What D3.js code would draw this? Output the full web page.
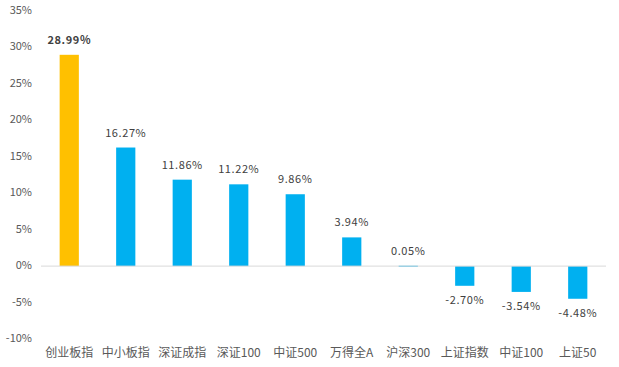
<!DOCTYPE html>
<html>
<head>
<meta charset="utf-8">
<script src="https://cdn.jsdelivr.net/npm/d3@7"></script>
<style>
  body { margin: 0; background: #fff; }
</style>
</head>
<body>
<div class="chart-container"></div>
<script>
// categories and values (%)
const categories = ['创业板指', '中小板指', '深证成指', '深证100', '中证500', '万得全A', '沪深300', '上证指数', '中证100', '上证50'];
const values = [28.99, 16.27, 11.86, 11.22, 9.86, 3.94, 0.05, -2.70, -3.54, -4.48];
const yTicks = [-10, -5, 0, 5, 10, 15, 20, 25, 30, 35];

const width = 619;
const height = 367;
const margin = { top: 10, right: 13, bottom: 28, left: 41 };

const fontCN = '"Noto Sans CJK SC", "DejaVu Sans", sans-serif';

const svg = d3.select('.chart-container')
  .append('svg')
  .attr('width', width)
  .attr('height', height)
  .attr('font-family', fontCN);

const x = d3.scaleBand()
  .domain(categories)
  .range([margin.left, width - margin.right])
  .paddingInner(0.66)
  .paddingOuter(0.33);

const y = d3.scaleLinear()
  .domain([-10, 35])
  .range([339, 11]);

// y tick labels
svg.append('g')
  .selectAll('text')
  .data(yTicks)
  .join('text')
    .attr('x', 32)
    .attr('y', d => y(d))
    .attr('text-anchor', 'end')
    .attr('dominant-baseline', 'middle')
    .attr('font-size', '11px')
    .attr('fill', '#595959')
    .text(d => d + '%');

// bars
svg.append('g')
  .selectAll('rect')
  .data(values)
  .join('rect')
    .attr('x', (d, i) => x(categories[i]))
    .attr('width', x.bandwidth())
    .attr('y', d => y(Math.max(0, d)))
    .attr('height', d => Math.max(1, Math.abs(y(d) - y(0))))
    .attr('fill', (d, i) => i === 0 ? '#FFC000' : '#00B0F0');

// zero line
svg.append('line')
  .attr('x1', margin.left)
  .attr('x2', width - margin.right)
  .attr('y1', y(0))
  .attr('y2', y(0))
  .attr('stroke', '#d9d9d9')
  .attr('stroke-width', 1);

// value labels
svg.append('g')
  .selectAll('text')
  .data(values)
  .join('text')
    .attr('x', (d, i) => x(categories[i]) + x.bandwidth() / 2)
    .attr('y', d => d >= 0 ? y(d) - 14 : y(d) + 15)
    .attr('text-anchor', 'middle')
    .attr('dominant-baseline', 'middle')
    .attr('font-size', '11px')
    .attr('letter-spacing', '0.6px')
    .attr('font-weight', (d, i) => i === 0 ? 'bold' : 'normal')
    .attr('fill', '#404040')
    .text(d => d.toFixed(2) + '%');

// category labels
svg.append('g')
  .selectAll('text')
  .data(categories)
  .join('text')
    .attr('x', d => x(d) + x.bandwidth() / 2)
    .attr('y', 354)
    .attr('text-anchor', 'middle')
    .attr('dominant-baseline', 'middle')
    .attr('font-size', '12px')
    .attr('fill', '#595959')
    .text(d => d);
</script>
</body>
</html>
